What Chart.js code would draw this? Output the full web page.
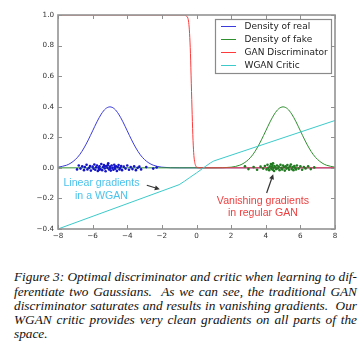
<!DOCTYPE html>
<html><head><meta charset="utf-8">
<script src="https://cdn.jsdelivr.net/npm/chart.js@4.4.1/dist/chart.umd.min.js"></script>
<style>
html,body{margin:0;padding:0;background:#fff;width:364px;height:355px;overflow:hidden;}
#wrap{position:absolute;left:0;top:0;width:364px;height:245px;}
.cap{position:absolute;left:14px;width:343px;font-family:"Liberation Serif",serif;font-style:italic;font-size:13.3px;line-height:14.2px;height:14.2px;white-space:nowrap;color:#111;}
.j{text-align:justify;text-align-last:justify;white-space:normal;}
</style></head>
<body>
<div id="wrap"><canvas id="c" width="364" height="245"></canvas></div>
<div class="cap j" style="top:270.4px">Figure 3: Optimal discriminator and critic when learning to dif-</div>
<div class="cap j" style="top:284.6px">ferentiate two Gaussians.&nbsp; As we can see, the traditional GAN</div>
<div class="cap j" style="top:298.8px">discriminator saturates and results in vanishing gradients.&nbsp; Our</div>
<div class="cap j" style="top:313px">WGAN critic provides very clean gradients on all parts of the</div>
<div class="cap" style="top:327.2px">space.</div>
<script>
// ---- data ----
const seriesNames = ["Density of real", "Density of fake", "GAN Discriminator", "WGAN Critic"];
const realX = [-8, -7.5, -7.25, -7, -6.75, -6.5, -6.25, -6, -5.75, -5.5, -5.25, -5, -4.75, -4.5, -4.25, -4, -3.75, -3.5, -3.25, -3, -2.75, -2.5, -2, -1, 8];
const realY = [0.0044, 0.0175, 0.032, 0.054, 0.086, 0.130, 0.183, 0.242, 0.301, 0.352, 0.387, 0.399, 0.387, 0.352, 0.301, 0.242, 0.183, 0.130, 0.086, 0.054, 0.032, 0.0175, 0.0044, 0.0001, 0];
const fakeX = [-8, 1, 2, 2.5, 2.75, 3, 3.25, 3.5, 3.75, 4, 4.25, 4.5, 4.75, 5, 5.25, 5.5, 5.75, 6, 6.25, 6.5, 6.75, 7, 7.25, 7.5, 8];
const fakeY = [0, 0.0001, 0.0044, 0.0175, 0.032, 0.054, 0.086, 0.130, 0.183, 0.242, 0.301, 0.352, 0.387, 0.399, 0.387, 0.352, 0.301, 0.242, 0.183, 0.130, 0.086, 0.054, 0.032, 0.0175, 0.0044];
const discX = [-8, -0.7, -0.6, -0.5, -0.45, -0.4, -0.35, -0.3, -0.25, -0.2, -0.15, -0.1, -0.05, 0, 0.1, 0.2, 8];
const discY = [1.0, 1.0, 0.995, 0.98, 0.95, 0.88, 0.75, 0.55, 0.35, 0.18, 0.08, 0.035, 0.015, 0.005, 0.001, 0, 0];
const criticX = [-8, -1, -0.7, -0.4, 0, 0.5, 0.8, 1, 8];
const criticY = [-0.40, -0.11, -0.088, -0.064, -0.033, 0.008, 0.032, 0.045, 0.31];
const realDots = [[-6.9,-0.01],[-6.8,0.015],[-6.7,-0.005],[-6.6,0.01],[-6.5,-0.015],[-6.45,0.005],[-6.35,0.02],[-6.3,-0.01],[-6.2,0.0],[-6.15,0.012],[-6.1,-0.018],[-6.0,0.008],[-5.95,-0.006],[-5.9,0.022],[-5.85,-0.012],[-5.8,0.004],[-5.75,0.015],[-5.7,-0.02],[-5.65,0.0],[-5.6,0.01],[-5.55,-0.008],[-5.5,0.025],[-5.45,-0.015],[-5.4,0.006],[-5.35,0.018],[-5.3,-0.004],[-5.25,-0.022],[-5.2,0.012],[-5.15,0.0],[-5.1,0.03],[-5.05,-0.01],[-5.0,0.008],[-4.95,-0.018],[-4.9,0.015],[-4.85,0.0],[-4.8,-0.012],[-4.75,0.02],[-4.7,-0.006],[-4.65,0.01],[-4.6,-0.02],[-4.55,0.005],[-4.5,0.018],[-4.45,-0.01],[-4.4,0.0],[-4.35,0.012],[-4.3,-0.015],[-4.2,0.008],[-4.1,-0.005],[-4.0,0.015],[-3.9,-0.012],[-3.8,0.005],[-3.7,-0.008],[-3.6,0.01],[-3.5,-0.015],[-3.4,0.0],[-3.3,0.008],[-3.2,-0.01],[-2.9,0.005],[-2.5,-0.005],[-2.3,0.003],[-5.28,0.01],[-5.62,-0.012],[-4.98,-0.004],[-5.12,0.018],[-4.72,0.006]];
const fakeDots = [[2.8,0.01],[3.0,-0.008],[3.3,0.005],[3.5,-0.012],[3.7,0.008],[3.85,-0.005],[3.95,0.012],[4.05,-0.01],[4.1,0.02],[4.15,0.0],[4.2,-0.015],[4.25,0.01],[4.3,0.025],[4.32,-0.006],[4.35,0.005],[4.38,0.018],[4.4,-0.012],[4.42,0.03],[4.45,0.0],[4.48,-0.02],[4.5,0.012],[4.55,0.004],[4.6,-0.008],[4.65,0.015],[4.7,-0.004],[4.75,0.008],[4.8,-0.015],[4.85,0.02],[4.9,0.0],[4.95,-0.01],[5.0,0.015],[5.05,0.005],[5.1,-0.018],[5.15,0.01],[5.2,-0.005],[5.25,0.018],[5.3,0.0],[5.35,-0.012],[5.4,0.01],[5.45,0.022],[5.5,-0.008],[5.55,0.005],[5.6,-0.015],[5.65,0.012],[5.7,0.0],[5.75,-0.01],[5.8,0.015],[5.9,-0.005],[6.0,0.01],[6.1,-0.012],[6.2,0.006],[6.3,-0.004],[6.45,0.01],[6.6,-0.008],[6.8,0.003]];
const xTicks = [-8, -6, -4, -2, 0, 2, 4, 6, 8];
const yTicks = [-0.4, -0.2, 0.0, 0.2, 0.4, 0.6, 0.8, 1.0];
const notes = [
  {lines: ["Linear gradients", "in a WGAN"], x: -5.49, y: [-0.10, -0.186], color: "#4cc3ec"},
  {lines: ["Vanishing gradients", "in regular GAN"], x: 3.84, y: [-0.217, -0.295], color: "#ee4040"}
];
const arrows = [
  {from: [-2.87, -0.114], to: [-2.12, -0.14]},
  {from: [4.05, -0.164], to: [4.43, -0.042]}
];
// ---- styles ----
const lineColors = ["#3b3bdc", "#2f8f2f", "#ff3a3a", "#3ccaca"];
const pts = (xs, ys) => xs.map((x, i) => ({x, y: ys[i]}));
const dotPts = arr => arr.map(p => ({x: p[0], y: p[1]}));
const minus = s => s.replace('-', '\u2212');

const lineDs = (i, xs, ys, smooth) => ({label: seriesNames[i], data: pts(xs, ys), showLine: true, borderColor: lineColors[i], borderWidth: 1, pointRadius: 0, cubicInterpolationMode: smooth ? 'monotone' : 'default', tension: 0, fill: false});

const decor = {
  id: 'decor',
  afterDatasetsDraw(chart) {
    const ctx = chart.ctx, a = chart.chartArea, xs = chart.scales.x, ys = chart.scales.y;
    ctx.save();
    ctx.strokeStyle = '#909090'; ctx.lineWidth = 1;
    ctx.beginPath();
    xTicks.forEach(v => { const p = Math.round(xs.getPixelForValue(v)) + 0.5; ctx.moveTo(p, a.bottom); ctx.lineTo(p, a.bottom - 4); ctx.moveTo(p, a.top); ctx.lineTo(p, a.top + 4); });
    yTicks.forEach(v => { const p = Math.round(ys.getPixelForValue(v)) + 0.5; ctx.moveTo(a.left, p); ctx.lineTo(a.left + 4, p); ctx.moveTo(a.right, p); ctx.lineTo(a.right - 4, p); });
    ctx.stroke();
    ctx.strokeStyle = '#939393'; ctx.lineWidth = 1.6;
    ctx.strokeRect(a.left, a.top, a.right - a.left, a.bottom - a.top);
    const lx = 215, ly = 19, lw = 116, lh = 54;
    ctx.fillStyle = '#fff'; ctx.fillRect(lx, ly, lw, lh);
    ctx.strokeStyle = '#8a8a8a'; ctx.lineWidth = 1.2; ctx.strokeRect(lx + 0.5, ly + 0.5, lw, lh);
    ctx.font = '9px "DejaVu Sans"'; ctx.textBaseline = 'middle'; ctx.textAlign = 'left';
    seriesNames.forEach((n, i) => {
      const yy = ly + 7 + i * 13;
      ctx.strokeStyle = lineColors[i]; ctx.lineWidth = 1;
      ctx.beginPath(); ctx.moveTo(221, yy + 0.5); ctx.lineTo(236, yy + 0.5); ctx.stroke();
      ctx.fillStyle = '#222'; ctx.fillText(n, 244.5, yy + 0.5);
    });
    ctx.font = '10.6px "Liberation Sans"'; ctx.textAlign = 'center';
    notes.forEach(nt => {
      ctx.fillStyle = nt.color;
      nt.lines.forEach((t, k) => ctx.fillText(t, xs.getPixelForValue(nt.x), ys.getPixelForValue(nt.y[k])));
    });
    ctx.strokeStyle = '#333'; ctx.fillStyle = '#333'; ctx.lineWidth = 1.2;
    arrows.forEach(ar => {
      const x0 = xs.getPixelForValue(ar.from[0]), y0 = ys.getPixelForValue(ar.from[1]);
      const x1 = xs.getPixelForValue(ar.to[0]), y1 = ys.getPixelForValue(ar.to[1]);
      const ang = Math.atan2(y1 - y0, x1 - x0), hl = 5, hw = 2.5;
      const bx = x1 - hl * Math.cos(ang), by = y1 - hl * Math.sin(ang);
      ctx.beginPath(); ctx.moveTo(x0, y0); ctx.lineTo(bx, by); ctx.stroke();
      ctx.beginPath(); ctx.moveTo(x1, y1);
      ctx.lineTo(bx + hw * Math.sin(ang), by - hw * Math.cos(ang));
      ctx.lineTo(bx - hw * Math.sin(ang), by + hw * Math.cos(ang));
      ctx.closePath(); ctx.fill();
    });
    ctx.restore();
  }
};

new Chart(document.getElementById('c'), {
  type: 'scatter',
  data: {
    datasets: [
      {label: 'real samples', data: dotPts(realDots), pointRadius: 1.3, pointBorderWidth: 0, pointBackgroundColor: '#1414c8', showLine: false},
      {label: 'fake samples', data: dotPts(fakeDots), pointRadius: 1.3, pointBorderWidth: 0, pointBackgroundColor: '#207a20', showLine: false},
      lineDs(3, criticX, criticY, false),
      lineDs(2, discX, discY, true),
      lineDs(1, fakeX, fakeY, true),
      lineDs(0, realX, realY, true)
    ]
  },
  options: {
    responsive: false, animation: false, devicePixelRatio: 1,
    layout: {padding: {top: 15, right: 29, left: 0, bottom: 0}},
    plugins: {legend: {display: false}, tooltip: {enabled: false}},
    scales: {
      x: {type: 'linear', min: -8, max: 8,
        afterFit: s => { s.height = 16; },
        afterBuildTicks: s => { s.ticks = xTicks.map(v => ({value: v})); },
        grid: {display: false, drawTicks: false}, border: {display: false},
        ticks: {padding: 3, color: '#333', font: {family: 'DejaVu Sans', size: 7.2}, maxRotation: 0, autoSkip: false, callback: v => minus(String(v))}},
      y: {type: 'linear', min: -0.4, max: 1.0,
        afterFit: s => { s.width = 58; },
        afterBuildTicks: s => { s.ticks = yTicks.map(v => ({value: v})); },
        grid: {display: false, drawTicks: false}, border: {display: false},
        ticks: {padding: 4, color: '#333', font: {family: 'DejaVu Sans', size: 7.2}, autoSkip: false, callback: v => minus(Number(v).toFixed(1))}}
    }
  },
  plugins: [decor]
});
</script>
</body></html>
